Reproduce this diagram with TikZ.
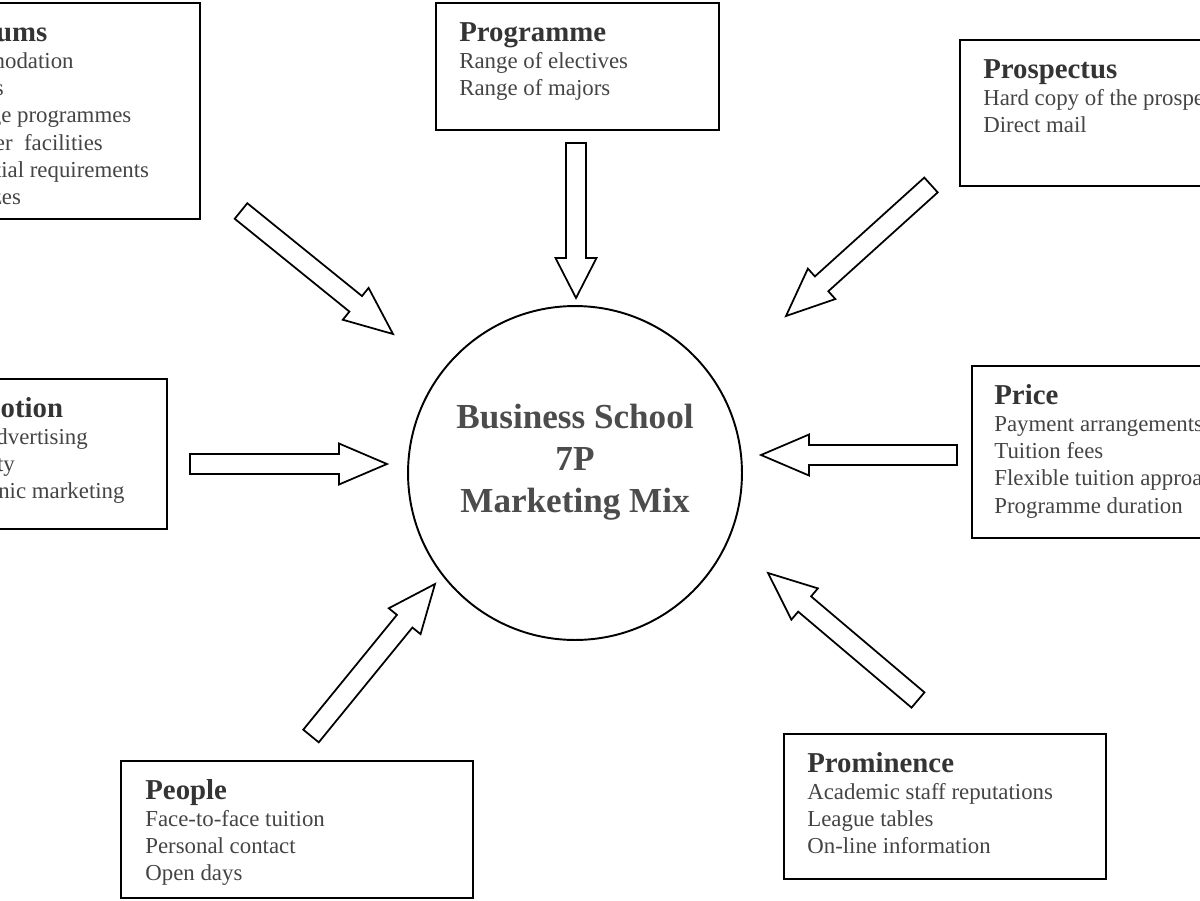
\documentclass[tikz,border=0pt]{standalone}
\usepackage{fontspec}
\setmainfont{Liberation Serif}
\usepackage{xcolor}
\usetikzlibrary{calc,positioning}
\definecolor{inkgrey}{RGB}{68,68,68}
\definecolor{headgrey}{RGB}{52,52,52}
\definecolor{hubgrey}{RGB}{76,76,76}

% hollow block arrow from #2 to #3, #1 = head length
\newcommand{\blockarrow}[3][0.96cm]{%
  \coordinate (#2hb) at ($(#3)!#1!(#2)$);
  \draw[hollow] ($(#2)!0.2cm!90:(#3)$) -- ($(#2hb)!0.2cm!-90:(#2)$)
    -- ($(#2hb)!0.41cm!-90:(#2)$) -- (#3) -- ($(#2hb)!0.41cm!90:(#2)$)
    -- ($(#2hb)!0.2cm!90:(#2)$) -- ($(#2)!0.2cm!-90:(#3)$) -- cycle;
}

\begin{document}
\begin{tikzpicture}[
  x=0.02cm, y=-0.02cm,
  pbox/.style={draw=black, line width=1.1pt, rectangle, inner sep=0pt,
    anchor=north west},
  ptitle/.style={anchor=base west, inner sep=0pt, text=headgrey,
    font=\fontsize{16.4}{19}\selectfont\bfseries},
  % base of a multi-line node = baseline of its last line
  pbody/.style={anchor=base west, inner sep=0pt, align=left, text=inkgrey,
    font=\fontsize{13}{15.5}\selectfont},
  hub/.style={circle, draw=black, line width=1.1pt, minimum size=6.68cm},
  hubtext/.style={align=center, text=hubgrey,
    font=\fontsize{20}{23.8}\selectfont\bfseries},
  hollow/.style={draw=black, line width=1pt, fill=white, line join=miter},
]
  \useasboundingbox (0,0) rectangle (1200,900);
  \clip (0,0) rectangle (1200,900);

  % Centre
  \node[hub] (hub) at (575,473) {};
  \node[hubtext] (hubT) at ([shift={(0,-11)}]hub.center)
    {Business School\\7P\\Marketing Mix};

  % Boxes
  \node[pbox, minimum width=6.04cm, minimum height=4.32cm] (prem) at (-103,2) {};
  \node[ptitle] (premT) at ([shift={(24,39)}]prem.north west) {Premiums};
  \node[pbody] (premB) at ([shift={(24,202.5)}]prem.north west)
    {Accommodation\\Libraries\\Exchange programmes\\Computer\ \ facilities\\Residential requirements\\Class sizes};

  \node[pbox, minimum width=5.66cm, minimum height=2.54cm] (prog) at (435,2) {};
  \node[ptitle] (progT) at ([shift={(24,39)}]prog.north west) {Programme};
  \node[pbody] (progB) at ([shift={(24,93.3)}]prog.north west)
    {Range of electives\\Range of majors};

  \node[pbox, minimum width=6.02cm, minimum height=2.92cm] (prosp) at (959,39) {};
  \node[ptitle] (prospT) at ([shift={(24,39)}]prosp.north west) {Prospectus};
  \node[pbody] (prospB) at ([shift={(24,93.3)}]prosp.north west)
    {Hard copy of the prospectus\\Direct mail};

  \node[pbox, minimum width=5.16cm, minimum height=3.0cm] (promo) at (-92,378) {};
  \node[ptitle] (promoT) at ([shift={(24,39)}]promo.north west) {Promotion};
  \node[pbody] (promoB) at ([shift={(24,120.6)}]promo.north west)
    {Press advertising\\Publicity\\Electronic marketing};

  \node[pbox, minimum width=5.98cm, minimum height=3.44cm] (price) at (971,365) {};
  \node[ptitle] (priceT) at ([shift={(23,39)}]price.north west) {Price};
  \node[pbody] (priceB) at ([shift={(23,148)}]price.north west)
    {Payment arrangements\\Tuition fees\\Flexible tuition approaches\\Programme duration};

  \node[pbox, minimum width=7.04cm, minimum height=2.74cm] (people) at (120,760) {};
  \node[ptitle] (peopleT) at ([shift={(25,39)}]people.north west) {People};
  \node[pbody] (peopleB) at ([shift={(25,120.6)}]people.north west)
    {Face-to-face tuition\\Personal contact\\Open days};

  \node[pbox, minimum width=6.44cm, minimum height=2.9cm] (promi) at (783,733) {};
  \node[ptitle] (promiT) at ([shift={(24,39)}]promi.north west) {Prominence};
  \node[pbody] (promiB) at ([shift={(24,120.6)}]promi.north west)
    {Academic staff reputations\\League tables\\On-line information};

  % Arrow ends
  \coordinate (premA) at (241,211);   \coordinate (premZ) at (393,334);
  \coordinate (progA) at (576,143);   \coordinate (progZ) at (576,298);
  \coordinate (prospA) at (931,185);  \coordinate (prospZ) at (786,316);
  \coordinate (promoA) at (190,464);  \coordinate (promoZ) at (387,464);
  \coordinate (priceA) at (957,455);  \coordinate (priceZ) at (761,455);
  \coordinate (peopleA) at (311,736); \coordinate (peopleZ) at (435,584);
  \coordinate (promiA) at (918,700);  \coordinate (promiZ) at (768,573);

  % Block arrows
  \blockarrow{premA}{premZ}
  \blockarrow[0.8cm]{progA}{progZ}
  \blockarrow{prospA}{prospZ}
  \blockarrow{promoA}{promoZ}
  \blockarrow{priceA}{priceZ}
  \blockarrow{peopleA}{peopleZ}
  \blockarrow{promiA}{promiZ}
\end{tikzpicture}
\end{document}
